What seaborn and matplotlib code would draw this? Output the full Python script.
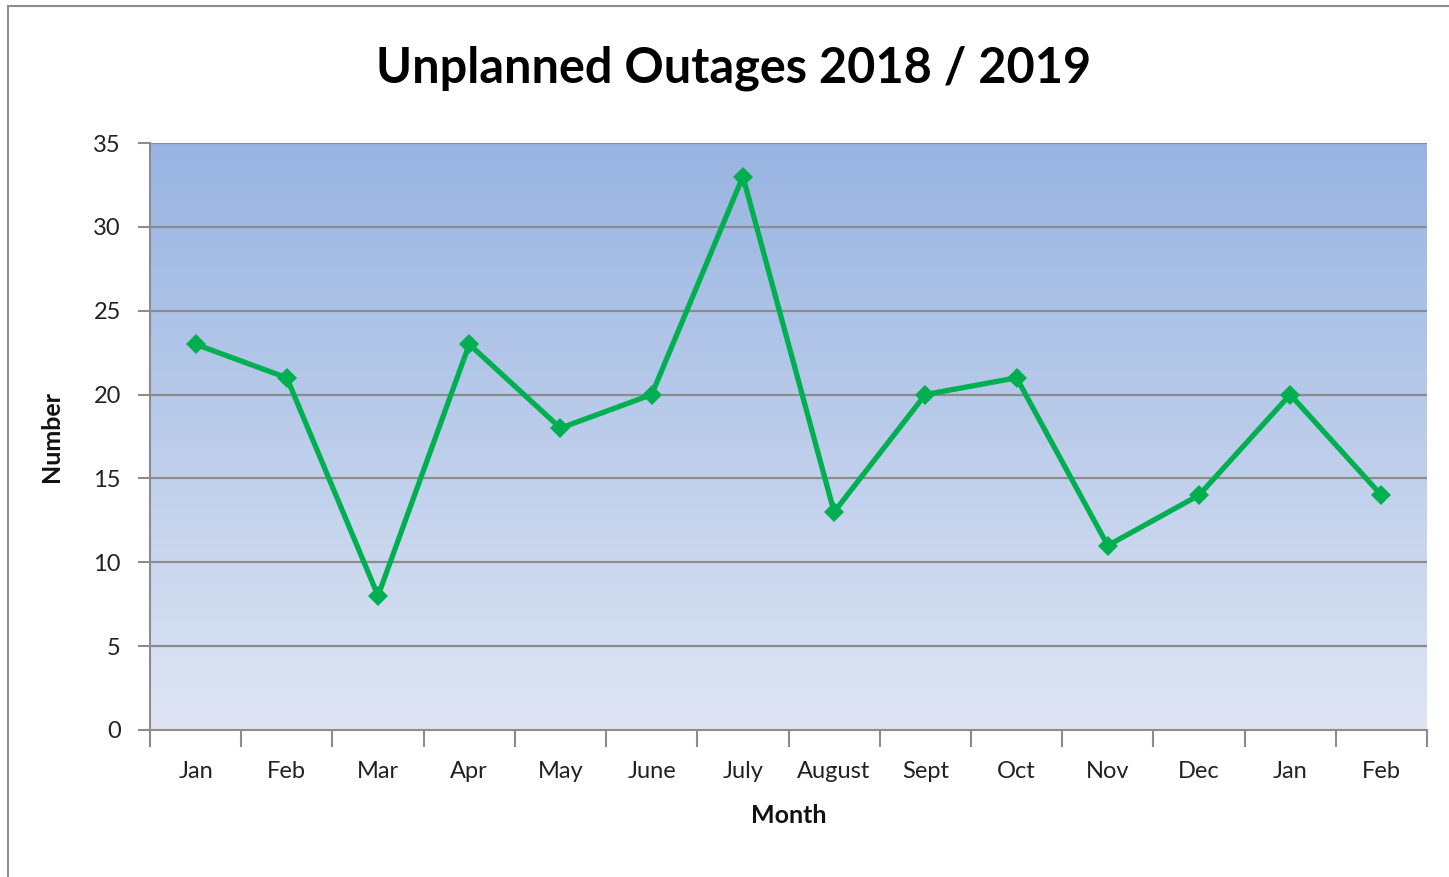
import numpy as np
import pandas as pd
import matplotlib
matplotlib.use("Agg")
import matplotlib.pyplot as plt
from matplotlib.colors import LinearSegmentedColormap
from matplotlib.patches import Rectangle
import seaborn as sns

months = ["Jan", "Feb", "Mar", "Apr", "May", "June", "July", "August",
          "Sept", "Oct", "Nov", "Dec", "Jan", "Feb"]
outages = [23, 21, 8, 23, 18, 20, 33, 13, 20, 21, 11, 14, 20, 14]
y_ticks = [0, 5, 10, 15, 20, 25, 30, 35]

sns.set_style("white")
plt.rcParams["font.family"] = ["Lato", "DejaVu Sans"]

df = pd.DataFrame({"pos": np.arange(len(months)), "value": outages})

fig = plt.figure(figsize=(14.49, 8.77), dpi=100)
ax = fig.add_axes([150 / 1449, 1 - 730 / 877, 1277 / 1449, 587 / 877])

# figure border
fig.patches.append(Rectangle((8 / 1449, -0.02), 1.05, 1 - 6 / 877 + 0.02,
                             transform=fig.transFigure, fill=False,
                             edgecolor="#8c8c8c", linewidth=1.5))

# gradient background
cmap = LinearSegmentedColormap.from_list("bg", ["#dfe5f3", "#98b4e2"])
grad = np.linspace(0, 1, 256).reshape(-1, 1)
ax.imshow(grad, cmap=cmap, aspect="auto", origin="lower",
          extent=[-0.5, len(months) - 0.5, 0, 35], zorder=0)

for t in y_ticks[1:]:
    ax.axhline(t, color="#8c8c8c", linewidth=1.6, zorder=1)

sns.lineplot(data=df, x="pos", y="value", ax=ax, color="#00b050",
             linewidth=3.8, marker="D", markersize=10, markeredgewidth=0,
             zorder=3)

ax.set_xlim(-0.5, len(months) - 0.5)
ax.set_ylim(0, 35)
ax.set_yticks(y_ticks)
ax.set_yticklabels([str(t) for t in y_ticks], fontsize=17, color="#222222")

ax.set_xticks(np.arange(len(months) + 1) - 0.5)
ax.set_xticklabels([])
ax.set_xticks(np.arange(len(months)), minor=True)
ax.set_xticklabels(months, minor=True, fontsize=17, color="#222222")
ax.tick_params(axis="x", which="major", direction="out", length=12,
               width=1.5, color="#8c8c8c", bottom=True)
ax.tick_params(axis="x", which="minor", length=0, pad=22)
ax.tick_params(axis="y", direction="out", length=9, width=1.5,
               color="#8c8c8c", left=True, pad=12)

for side in ["top", "right"]:
    ax.spines[side].set_visible(False)
for side in ["left", "bottom"]:
    ax.spines[side].set_color("#8c8c8c")
    ax.spines[side].set_linewidth(1.5)

ax.set_xlabel("Month", fontsize=18, fontweight="bold", labelpad=16,
              color="#111111")
ax.set_ylabel("Number", fontsize=18, fontweight="bold", labelpad=22,
              color="#111111")
fig.suptitle("Unplanned Outages 2018 / 2019", fontsize=35, fontweight="bold",
             x=734 / 1449, y=1 - 68 / 877, va="center", color="black")

fig.savefig("out.png", dpi=100)
